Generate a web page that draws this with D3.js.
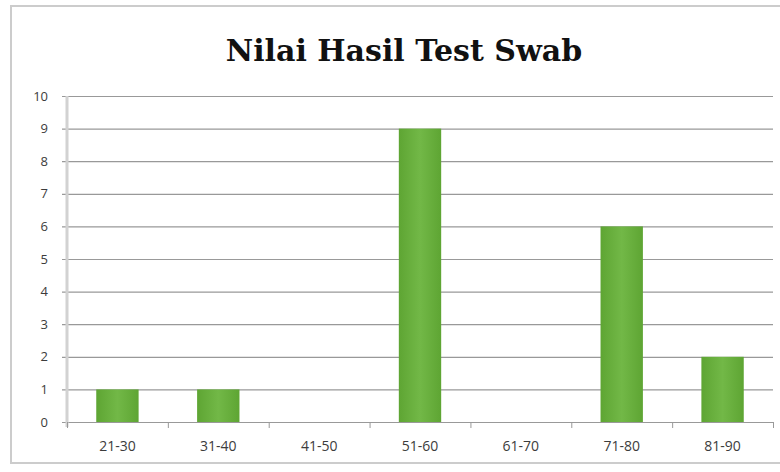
<!DOCTYPE html>
<html>
<head>
<meta charset="utf-8">
<script src="https://cdn.jsdelivr.net/npm/d3@7"></script>
<style>
    body { margin: 0; background: #fff; }
    svg { display: block; }
</style>
</head>
<body>
<script>
"use strict";
(function() {
const svgSize = {
    width: 780,
    height: 472,
}

const categories = ["21-30", "31-40", "41-50", "51-60", "61-70", "71-80", "81-90"];
const values = [1, 1, 0, 9, 0, 6, 2];
const yTicks = [0, 1, 2, 3, 4, 5, 6, 7, 8, 9, 10];
const chartTitle = "Nilai Hasil Test Swab";

    window.addEventListener("load", init);

    function init() {
        const svg = d3.select("body").append("svg")
                        .attr("width", svgSize.width)
                        .attr("height", svgSize.height);

        const margin = { top: 96, right: 7, bottom: 50, left: 67 };

        // outer frame
        svg.append("rect")
            .attr("x", 11).attr("y", 6)
            .attr("width", 780).attr("height", 457)
            .attr("fill", "none")
            .attr("stroke", "#cccccc")
            .attr("stroke-width", 2);

        const defs = svg.append("defs");
        const grad = defs.append("linearGradient")
            .attr("id", "barGrad")
            .attr("x1", "0%").attr("x2", "100%")
            .attr("y1", "0%").attr("y2", "0%");
        grad.append("stop").attr("offset", "0%").attr("stop-color", "#5ea533");
        grad.append("stop").attr("offset", "50%").attr("stop-color", "#72b847");
        grad.append("stop").attr("offset", "100%").attr("stop-color", "#5ea533");

        const x = d3.scaleBand()
            .domain(categories)
            .range([margin.left, svgSize.width - margin.right])
            .paddingInner(0.58)
            .paddingOuter(0.29);

        const y = d3.scaleLinear()
            .domain([0, 10])
            .range([422, margin.top]);

        // gridlines
        svg.append("g")
            .selectAll("line")
            .data(yTicks)
            .enter()
            .append("line")
                .attr("x1", margin.left - 5)
                .attr("x2", svgSize.width - margin.right)
                .attr("y1", d => y(d) + 0.5)
                .attr("y2", d => y(d) + 0.5)
                .attr("stroke", "#999")
                .attr("stroke-width", 1.2);

        // y axis line
        svg.append("line")
            .attr("x1", margin.left).attr("x2", margin.left)
            .attr("y1", y(10)).attr("y2", y(0) + 5)
            .attr("stroke", "#d2d2d2")
            .attr("stroke-width", 3);

        // y labels
        const yAxis = d3.axisLeft(y).tickValues(yTicks).tickSize(0).tickPadding(0);
        const yg = svg.append("g")
            .attr("transform", `translate(${margin.left - 19},0)`)
            .call(yAxis);
        yg.select(".domain").remove();
        yg.selectAll("text")
            .attr("font-family", "'Open Sans', sans-serif")
            .attr("font-size", 13)
            .attr("fill", "#3c3c3c");

        // x axis ticks at category boundaries
        const step = x.step();
        const boundaries = d3.range(categories.length + 1).map(i => margin.left + i * step);
        svg.append("g")
            .selectAll("line")
            .data(boundaries)
            .enter()
            .append("line")
                .attr("x1", d => d + 0.5).attr("x2", d => d + 0.5)
                .attr("y1", y(0)).attr("y2", y(0) + 6)
                .attr("stroke", "#999");

        // bars
        svg.append("g")
            .selectAll("rect")
            .data(values)
            .enter()
            .append("rect")
                .attr("x", (d, i) => x(categories[i]))
                .attr("y", d => y(d))
                .attr("width", x.bandwidth())
                .attr("height", d => y(0) - y(d))
                .attr("fill", "url(#barGrad)");

        // x labels
        const xAxis = d3.axisBottom(x).tickSize(0).tickPadding(0);
        const xg = svg.append("g")
            .attr("transform", `translate(0,${y(0) + 19})`)
            .call(xAxis);
        xg.select(".domain").remove();
        xg.selectAll("text")
            .attr("dy", "0.71em")
            .attr("font-family", "'Open Sans', sans-serif")
            .attr("font-size", 14)
            .attr("fill", "#3c3c3c");

        // title
        svg.append("text")
            .attr("x", 404)
            .attr("y", 61)
            .attr("text-anchor", "middle")
            .attr("font-family", "'DejaVu Serif', serif")
            .attr("font-weight", "bold")
            .attr("font-size", 30)
            .attr("fill", "#111")
            .text(chartTitle);
    }
})();
</script>
</body>
</html>
